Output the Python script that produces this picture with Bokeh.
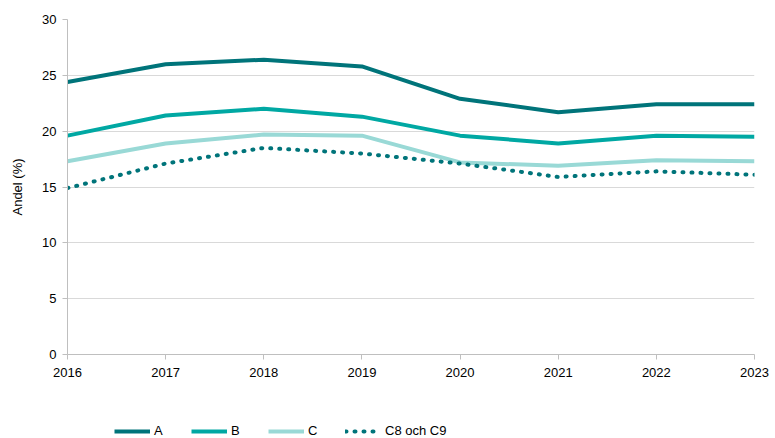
from bokeh.plotting import figure
from bokeh.models import Legend, LegendItem, Range1d, FixedTicker
from bokeh.layouts import column
from bokeh.embed import file_html
from bokeh.resources import INLINE

years = [2016, 2017, 2018, 2019, 2020, 2021, 2022, 2023]
a_vals = [24.4, 26.0, 26.4, 25.8, 22.9, 21.7, 22.4, 22.4]
b_vals = [19.6, 21.4, 22.0, 21.3, 19.6, 18.9, 19.6, 19.5]
c_vals = [17.3, 18.9, 19.7, 19.6, 17.2, 16.9, 17.4, 17.3]
c89_vals = [14.9, 17.1, 18.5, 18.0, 17.1, 15.9, 16.4, 16.1]
y_ticks = [0, 5, 10, 15, 20, 25, 30]
series_labels = ["A", "B", "C", "C8 och C9"]

FONT = "Liberation Sans"
COL_A = "#00747A"
COL_B = "#00A8A3"
COL_C = "#99D9D6"
styles = [dict(line_color=COL_A, line_width=4),
          dict(line_color=COL_B, line_width=4),
          dict(line_color=COL_C, line_width=4),
          dict(line_color=COL_A, line_width=4, line_dash="1 8", line_cap="round")]
series = [a_vals, b_vals, c_vals, c89_vals]

p = figure(width=775, height=394, output_backend="svg", toolbar_location=None,
           x_range=Range1d(2016, 2023), y_range=Range1d(0, 30),
           min_border_left=67, min_border_right=21, min_border_top=19, min_border_bottom=40)
p.outline_line_color = None
for vals, st in zip(series, styles):
    p.line(years, vals, **st)

p.xgrid.grid_line_color = None
p.ygrid.grid_line_color = "#D9D9D9"
p.ygrid.grid_line_width = 1
p.ygrid.ticker = FixedTicker(ticks=y_ticks)

p.xaxis.ticker = FixedTicker(ticks=years)
p.yaxis.ticker = FixedTicker(ticks=y_ticks)
for ax in (p.xaxis[0], p.yaxis[0]):
    ax.axis_line_color = "#BFBFBF"
    ax.major_tick_line_color = "#BFBFBF"
    ax.major_tick_in = 0
    ax.major_tick_out = 5
    ax.minor_tick_line_color = None
    ax.major_label_text_font = FONT
    ax.major_label_text_font_size = "13px"
    ax.major_label_text_color = "#000000"
p.yaxis.major_label_standoff = 6
p.xaxis.major_label_standoff = 8
p.yaxis.axis_label = "Andel (%)"
p.yaxis.axis_label_text_font = FONT
p.yaxis.axis_label_text_font_size = "13px"
p.yaxis.axis_label_text_font_style = "normal"
p.yaxis.axis_label_text_color = "#000000"
p.yaxis.axis_label_standoff = 14

# legend strip below the chart
lg = figure(width=775, height=44, output_backend="svg", toolbar_location=None,
            x_range=Range1d(0, 1), y_range=Range1d(0, 1),
            x_axis_location=None, y_axis_location=None,
            min_border_left=0, min_border_right=0, min_border_top=0, min_border_bottom=0)
lg.outline_line_color = None
lg.grid.visible = False
items = []
for lab, vals, st in zip(series_labels, series, styles):
    r = lg.line(years, vals, **st)
    items.append(LegendItem(label=lab, renderers=[r]))
legend = Legend(items=items, orientation="horizontal", location=(47, 0),
                label_text_font=FONT, label_text_font_size="13px",
                label_text_color="#000000",
                glyph_width=36, glyph_height=14, label_height=14,
                label_standoff=4, spacing=17,
                border_line_color=None, background_fill_alpha=0,
                padding=0, margin=0)
lg.add_layout(legend, "center")

layout = column(p, lg, spacing=0)
open("out.html", "w").write(file_html(layout, INLINE))
